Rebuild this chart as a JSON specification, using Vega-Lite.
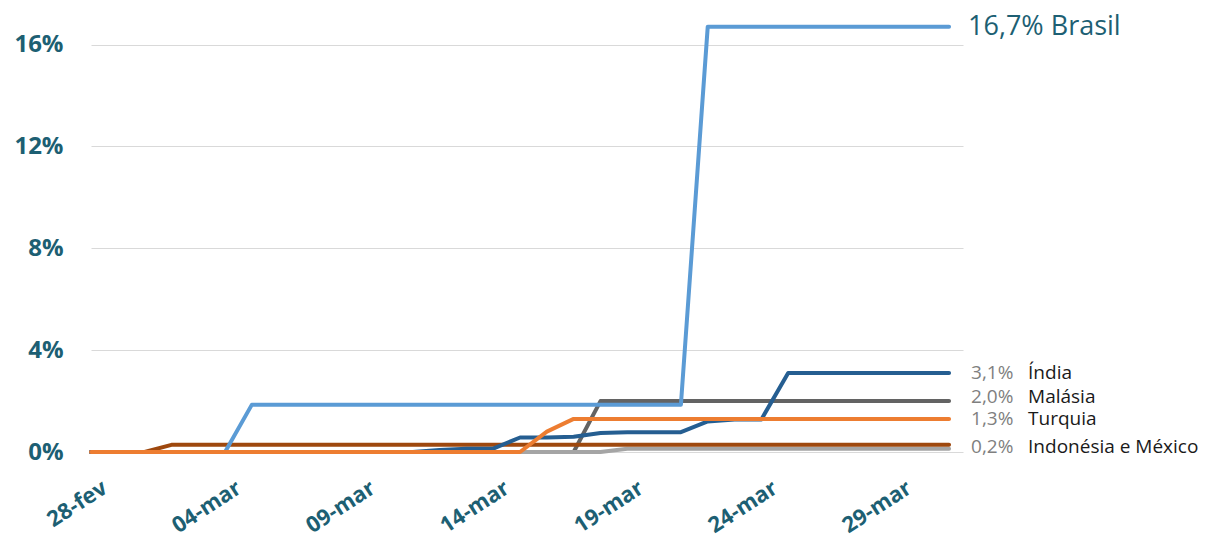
{
  "$schema": "https://vega.github.io/schema/vega-lite/v6.json",
  "width": 872,
  "height": 452,
  "autosize": {"type": "none"},
  "padding": {"left": 91, "top": 0, "right": 259, "bottom": 83},
  "background": "white",
  "config": {"view": {"stroke": null}, "font": "Open Sans"},
  "datasets": {
    "series": [
      {"pais":"Malásia","data":"28-fev","valor":0},{"pais":"Malásia","data":"29-fev","valor":0},{"pais":"Malásia","data":"01-mar","valor":0},{"pais":"Malásia","data":"02-mar","valor":0},{"pais":"Malásia","data":"03-mar","valor":0},{"pais":"Malásia","data":"04-mar","valor":0},{"pais":"Malásia","data":"05-mar","valor":0},{"pais":"Malásia","data":"06-mar","valor":0},{"pais":"Malásia","data":"07-mar","valor":0},{"pais":"Malásia","data":"08-mar","valor":0},{"pais":"Malásia","data":"09-mar","valor":0},{"pais":"Malásia","data":"10-mar","valor":0},{"pais":"Malásia","data":"11-mar","valor":0},{"pais":"Malásia","data":"12-mar","valor":0},{"pais":"Malásia","data":"13-mar","valor":0},{"pais":"Malásia","data":"14-mar","valor":0},{"pais":"Malásia","data":"15-mar","valor":0},{"pais":"Malásia","data":"16-mar","valor":0},{"pais":"Malásia","data":"17-mar","valor":0},{"pais":"Malásia","data":"18-mar","valor":2.0},{"pais":"Malásia","data":"19-mar","valor":2.0},{"pais":"Malásia","data":"20-mar","valor":2.0},{"pais":"Malásia","data":"21-mar","valor":2.0},{"pais":"Malásia","data":"22-mar","valor":2.0},{"pais":"Malásia","data":"23-mar","valor":2.0},{"pais":"Malásia","data":"24-mar","valor":2.0},{"pais":"Malásia","data":"25-mar","valor":2.0},{"pais":"Malásia","data":"26-mar","valor":2.0},{"pais":"Malásia","data":"27-mar","valor":2.0},{"pais":"Malásia","data":"28-mar","valor":2.0},{"pais":"Malásia","data":"29-mar","valor":2.0},{"pais":"Malásia","data":"30-mar","valor":2.0},{"pais":"Malásia","data":"31-mar","valor":2.0},
      {"pais":"México","data":"28-fev","valor":0},{"pais":"México","data":"29-fev","valor":0},{"pais":"México","data":"01-mar","valor":0},{"pais":"México","data":"02-mar","valor":0},{"pais":"México","data":"03-mar","valor":0},{"pais":"México","data":"04-mar","valor":0},{"pais":"México","data":"05-mar","valor":0},{"pais":"México","data":"06-mar","valor":0},{"pais":"México","data":"07-mar","valor":0},{"pais":"México","data":"08-mar","valor":0},{"pais":"México","data":"09-mar","valor":0},{"pais":"México","data":"10-mar","valor":0},{"pais":"México","data":"11-mar","valor":0},{"pais":"México","data":"12-mar","valor":0},{"pais":"México","data":"13-mar","valor":0},{"pais":"México","data":"14-mar","valor":0},{"pais":"México","data":"15-mar","valor":0},{"pais":"México","data":"16-mar","valor":0},{"pais":"México","data":"17-mar","valor":0},{"pais":"México","data":"18-mar","valor":0},{"pais":"México","data":"19-mar","valor":0.13},{"pais":"México","data":"20-mar","valor":0.13},{"pais":"México","data":"21-mar","valor":0.13},{"pais":"México","data":"22-mar","valor":0.13},{"pais":"México","data":"23-mar","valor":0.13},{"pais":"México","data":"24-mar","valor":0.13},{"pais":"México","data":"25-mar","valor":0.13},{"pais":"México","data":"26-mar","valor":0.13},{"pais":"México","data":"27-mar","valor":0.13},{"pais":"México","data":"28-mar","valor":0.13},{"pais":"México","data":"29-mar","valor":0.13},{"pais":"México","data":"30-mar","valor":0.13},{"pais":"México","data":"31-mar","valor":0.13},
      {"pais":"Indonésia","data":"28-fev","valor":0},{"pais":"Indonésia","data":"29-fev","valor":0},{"pais":"Indonésia","data":"01-mar","valor":0},{"pais":"Indonésia","data":"02-mar","valor":0.28},{"pais":"Indonésia","data":"03-mar","valor":0.28},{"pais":"Indonésia","data":"04-mar","valor":0.28},{"pais":"Indonésia","data":"05-mar","valor":0.28},{"pais":"Indonésia","data":"06-mar","valor":0.28},{"pais":"Indonésia","data":"07-mar","valor":0.28},{"pais":"Indonésia","data":"08-mar","valor":0.28},{"pais":"Indonésia","data":"09-mar","valor":0.28},{"pais":"Indonésia","data":"10-mar","valor":0.28},{"pais":"Indonésia","data":"11-mar","valor":0.28},{"pais":"Indonésia","data":"12-mar","valor":0.28},{"pais":"Indonésia","data":"13-mar","valor":0.28},{"pais":"Indonésia","data":"14-mar","valor":0.28},{"pais":"Indonésia","data":"15-mar","valor":0.28},{"pais":"Indonésia","data":"16-mar","valor":0.28},{"pais":"Indonésia","data":"17-mar","valor":0.28},{"pais":"Indonésia","data":"18-mar","valor":0.28},{"pais":"Indonésia","data":"19-mar","valor":0.28},{"pais":"Indonésia","data":"20-mar","valor":0.28},{"pais":"Indonésia","data":"21-mar","valor":0.28},{"pais":"Indonésia","data":"22-mar","valor":0.28},{"pais":"Indonésia","data":"23-mar","valor":0.28},{"pais":"Indonésia","data":"24-mar","valor":0.28},{"pais":"Indonésia","data":"25-mar","valor":0.28},{"pais":"Indonésia","data":"26-mar","valor":0.28},{"pais":"Indonésia","data":"27-mar","valor":0.28},{"pais":"Indonésia","data":"28-mar","valor":0.28},{"pais":"Indonésia","data":"29-mar","valor":0.28},{"pais":"Indonésia","data":"30-mar","valor":0.28},{"pais":"Indonésia","data":"31-mar","valor":0.28},
      {"pais":"Brasil","data":"28-fev","valor":0},{"pais":"Brasil","data":"29-fev","valor":0},{"pais":"Brasil","data":"01-mar","valor":0},{"pais":"Brasil","data":"02-mar","valor":0},{"pais":"Brasil","data":"03-mar","valor":0},{"pais":"Brasil","data":"04-mar","valor":0},{"pais":"Brasil","data":"05-mar","valor":1.86},{"pais":"Brasil","data":"06-mar","valor":1.86},{"pais":"Brasil","data":"07-mar","valor":1.86},{"pais":"Brasil","data":"08-mar","valor":1.86},{"pais":"Brasil","data":"09-mar","valor":1.86},{"pais":"Brasil","data":"10-mar","valor":1.86},{"pais":"Brasil","data":"11-mar","valor":1.86},{"pais":"Brasil","data":"12-mar","valor":1.86},{"pais":"Brasil","data":"13-mar","valor":1.86},{"pais":"Brasil","data":"14-mar","valor":1.86},{"pais":"Brasil","data":"15-mar","valor":1.86},{"pais":"Brasil","data":"16-mar","valor":1.86},{"pais":"Brasil","data":"17-mar","valor":1.86},{"pais":"Brasil","data":"18-mar","valor":1.86},{"pais":"Brasil","data":"19-mar","valor":1.86},{"pais":"Brasil","data":"20-mar","valor":1.86},{"pais":"Brasil","data":"21-mar","valor":1.86},{"pais":"Brasil","data":"22-mar","valor":16.7},{"pais":"Brasil","data":"23-mar","valor":16.7},{"pais":"Brasil","data":"24-mar","valor":16.7},{"pais":"Brasil","data":"25-mar","valor":16.7},{"pais":"Brasil","data":"26-mar","valor":16.7},{"pais":"Brasil","data":"27-mar","valor":16.7},{"pais":"Brasil","data":"28-mar","valor":16.7},{"pais":"Brasil","data":"29-mar","valor":16.7},{"pais":"Brasil","data":"30-mar","valor":16.7},{"pais":"Brasil","data":"31-mar","valor":16.7},
      {"pais":"Índia","data":"28-fev","valor":0},{"pais":"Índia","data":"29-fev","valor":0},{"pais":"Índia","data":"01-mar","valor":0},{"pais":"Índia","data":"02-mar","valor":0},{"pais":"Índia","data":"03-mar","valor":0},{"pais":"Índia","data":"04-mar","valor":0},{"pais":"Índia","data":"05-mar","valor":0},{"pais":"Índia","data":"06-mar","valor":0},{"pais":"Índia","data":"07-mar","valor":0},{"pais":"Índia","data":"08-mar","valor":0},{"pais":"Índia","data":"09-mar","valor":0},{"pais":"Índia","data":"10-mar","valor":0},{"pais":"Índia","data":"11-mar","valor":0},{"pais":"Índia","data":"12-mar","valor":0.08},{"pais":"Índia","data":"13-mar","valor":0.13},{"pais":"Índia","data":"14-mar","valor":0.13},{"pais":"Índia","data":"15-mar","valor":0.57},{"pais":"Índia","data":"16-mar","valor":0.57},{"pais":"Índia","data":"17-mar","valor":0.6},{"pais":"Índia","data":"18-mar","valor":0.75},{"pais":"Índia","data":"19-mar","valor":0.78},{"pais":"Índia","data":"20-mar","valor":0.78},{"pais":"Índia","data":"21-mar","valor":0.78},{"pais":"Índia","data":"22-mar","valor":1.2},{"pais":"Índia","data":"23-mar","valor":1.28},{"pais":"Índia","data":"24-mar","valor":1.28},{"pais":"Índia","data":"25-mar","valor":3.1},{"pais":"Índia","data":"26-mar","valor":3.1},{"pais":"Índia","data":"27-mar","valor":3.1},{"pais":"Índia","data":"28-mar","valor":3.1},{"pais":"Índia","data":"29-mar","valor":3.1},{"pais":"Índia","data":"30-mar","valor":3.1},{"pais":"Índia","data":"31-mar","valor":3.1},
      {"pais":"Turquia","data":"28-fev","valor":0},{"pais":"Turquia","data":"29-fev","valor":0},{"pais":"Turquia","data":"01-mar","valor":0},{"pais":"Turquia","data":"02-mar","valor":0},{"pais":"Turquia","data":"03-mar","valor":0},{"pais":"Turquia","data":"04-mar","valor":0},{"pais":"Turquia","data":"05-mar","valor":0},{"pais":"Turquia","data":"06-mar","valor":0},{"pais":"Turquia","data":"07-mar","valor":0},{"pais":"Turquia","data":"08-mar","valor":0},{"pais":"Turquia","data":"09-mar","valor":0},{"pais":"Turquia","data":"10-mar","valor":0},{"pais":"Turquia","data":"11-mar","valor":0},{"pais":"Turquia","data":"12-mar","valor":0},{"pais":"Turquia","data":"13-mar","valor":0},{"pais":"Turquia","data":"14-mar","valor":0},{"pais":"Turquia","data":"15-mar","valor":0},{"pais":"Turquia","data":"16-mar","valor":0.8},{"pais":"Turquia","data":"17-mar","valor":1.3},{"pais":"Turquia","data":"18-mar","valor":1.3},{"pais":"Turquia","data":"19-mar","valor":1.3},{"pais":"Turquia","data":"20-mar","valor":1.3},{"pais":"Turquia","data":"21-mar","valor":1.3},{"pais":"Turquia","data":"22-mar","valor":1.3},{"pais":"Turquia","data":"23-mar","valor":1.3},{"pais":"Turquia","data":"24-mar","valor":1.3},{"pais":"Turquia","data":"25-mar","valor":1.3},{"pais":"Turquia","data":"26-mar","valor":1.3},{"pais":"Turquia","data":"27-mar","valor":1.3},{"pais":"Turquia","data":"28-mar","valor":1.3},{"pais":"Turquia","data":"29-mar","valor":1.3},{"pais":"Turquia","data":"30-mar","valor":1.3},{"pais":"Turquia","data":"31-mar","valor":1.3}
    ],
    "rotulos": [
      {"pais":"Brasil","data":"31-mar","valor":16.7,"pct":"16,7%","nome":"Brasil","rotulo":"16,7% Brasil"},
      {"pais":"Índia","data":"31-mar","valor":3.1,"pct":"3,1%","nome":"Índia","rotulo":"3,1% Índia"},
      {"pais":"Malásia","data":"31-mar","valor":2.0,"pct":"2,0%","nome":"Malásia","rotulo":"2,0% Malásia"},
      {"pais":"Turquia","data":"31-mar","valor":1.3,"pct":"1,3%","nome":"Turquia","rotulo":"1,3% Turquia"},
      {"pais":"Indonésia e México","data":"31-mar","valor":0.2,"pct":"0,2%","nome":"Indonésia e México","rotulo":"0,2% Indonésia e México"}
    ]
  },
  "encoding": {
    "x": {
      "field": "data",
      "type": "ordinal",
      "scale": {
        "type": "point",
        "domain": ["28-fev","29-fev","01-mar","02-mar","03-mar","04-mar","05-mar","06-mar","07-mar","08-mar","09-mar","10-mar","11-mar","12-mar","13-mar","14-mar","15-mar","16-mar","17-mar","18-mar","19-mar","20-mar","21-mar","22-mar","23-mar","24-mar","25-mar","26-mar","27-mar","28-mar","29-mar","30-mar","31-mar"],
        "padding": 0.26,
        "align": 0
      },
      "axis": {
        "values": ["28-fev","04-mar","09-mar","14-mar","19-mar","24-mar","29-mar"],
        "title": null,
        "domain": false,
        "ticks": false,
        "grid": false,
        "labelAngle": -33,
        "labelAlign": "right",
        "labelBaseline": "top",
        "labelPadding": 25,
        "labelOffset": 8,
        "labelFont": "Open Sans",
        "labelFontWeight": "bold",
        "labelFontSize": 22,
        "labelColor": "#1D5F73",
        "labelOverlap": false
      }
    },
    "y": {
      "field": "valor",
      "type": "quantitative",
      "scale": {"domain": [0, 17.75], "nice": false, "zero": true},
      "axis": {
        "values": [0, 4, 8, 12, 16],
        "labelExpr": "datum.value + '%'",
        "title": null,
        "domain": false,
        "ticks": false,
        "grid": true,
        "gridColor": "#D9D9D9",
        "gridWidth": 1,
        "labelFont": "Open Sans",
        "labelFontWeight": "bold",
        "labelFontSize": 24,
        "labelColor": "#1D5F73",
        "labelPadding": 28
      }
    }
  },
  "layer": [
    {
      "data": {"name": "series"},
      "mark": {"type": "line", "strokeWidth": 4, "strokeCap": "round", "strokeJoin": "round"},
      "encoding": {
        "color": {
          "field": "pais",
          "type": "nominal",
          "scale": {
            "domain": ["Malásia","México","Indonésia","Brasil","Índia","Turquia"],
            "range": ["#636363","#A5A5A5","#9E480E","#5B9BD5","#255E91","#ED7D31"]
          },
          "legend": null
        }
      }
    },
    {
      "data": {"name": "rotulos"},
      "transform": [{"filter": "datum.pais !== 'Brasil' && datum.pais !== 'Malásia'"}],
      "mark": {"type": "text", "align": "left", "baseline": "middle", "dx": 22, "font": "Open Sans", "fontSize": 19, "color": "#7F7F7F"},
      "encoding": {"text": {"field": "pct"}}
    },
    {
      "data": {"name": "rotulos"},
      "transform": [{"filter": "datum.pais !== 'Brasil' && datum.pais !== 'Malásia'"}],
      "mark": {"type": "text", "align": "left", "baseline": "middle", "dx": 79, "font": "Open Sans", "fontSize": 19, "color": "#1A1A1A"},
      "encoding": {"text": {"field": "nome"}}
    },
    {
      "data": {"name": "rotulos"},
      "transform": [{"filter": "datum.pais === 'Malásia'"}],
      "mark": {"type": "text", "align": "left", "baseline": "middle", "dx": 22, "dy": -4, "font": "Open Sans", "fontSize": 19, "color": "#7F7F7F"},
      "encoding": {"text": {"field": "pct"}}
    },
    {
      "data": {"name": "rotulos"},
      "transform": [{"filter": "datum.pais === 'Malásia'"}],
      "mark": {"type": "text", "align": "left", "baseline": "middle", "dx": 79, "dy": -4, "font": "Open Sans", "fontSize": 19, "color": "#1A1A1A"},
      "encoding": {"text": {"field": "nome"}}
    },
    {
      "data": {"name": "rotulos"},
      "transform": [{"filter": "datum.pais === 'Brasil'"}],
      "mark": {"type": "text", "align": "left", "baseline": "middle", "dx": 19, "font": "Open Sans", "fontSize": 27, "color": "#1D5F73"},
      "encoding": {"text": {"field": "rotulo"}}
    }
  ]
}
